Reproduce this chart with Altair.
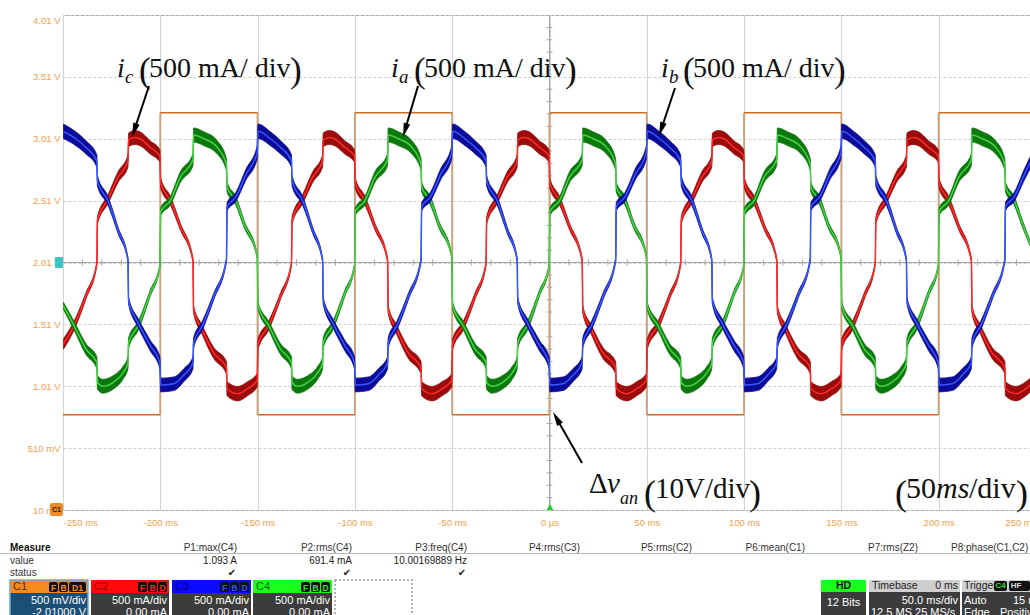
import math
import altair as alt
import pandas as pd

# ------------------------------------------------------------------ data
x_ticks_ms = [-250, -200, -150, -100, -50, 0, 50, 100, 150, 200, 250]
y_ticks_V = [0.01, 0.51, 1.01, 1.51, 2.01, 2.51, 3.01, 3.51, 4.01]

# start of each 100 ms (10 Hz) period visible on screen
period_starts_ms = [-250, -150, -50, 50, 150]

# one period of every phase current: time from period start (ms), current (A)
ic_t = [0.2, 5.7, 11.8, 17.4, 17.7, 23.1, 28.3, 33.4, 33.7, 36.8, 39.6, 44.8, 49.8, 50.2, 55.2, 60.3,
        66.8, 67.1, 71.4, 77.4, 84.0, 84.3, 89.7, 94.8, 99.8]
ic_a = [-0.66, -0.51, -0.27, -0.01, 0.34, 0.51, 0.69, 0.82, 0.99, 1.01, 1.00, 0.93, 0.86, 0.64, 0.50, 0.29,
        0.02, -0.38, -0.54, -0.73, -0.85, -1.02, -1.06, -1.02, -0.95]
ia_t = [0.2, 5.7, 11.8, 17.4, 17.7, 20.5, 25.7, 30.9, 33.4, 33.7, 38.7, 44.8, 49.8, 50.2, 55.2, 60.3,
        66.8, 67.1, 72.4, 79.3, 84.0, 84.3, 88.8, 93.1, 99.8]
ia_a = [-0.35, -0.51, -0.70, -0.81, -0.97, -1.00, -0.97, -0.89, -0.81, -0.65, -0.51, -0.25, -0.03, 0.41, 0.50, 0.69,
        0.83, 1.03, 1.00, 0.93, 0.79, 0.61, 0.50, 0.31, 0.05]
ib_t = [0.2, 6.6, 11.8, 17.4, 17.7, 23.1, 28.3, 33.4, 33.7, 38.7, 44.8, 49.8, 50.2, 56.9, 62.1, 66.8,
        67.1, 71.6, 77.6, 84.0, 84.3, 88.8, 94.0, 99.8]
ib_a = [1.06, 1.00, 0.93, 0.82, 0.66, 0.50, 0.26, 0.02, -0.31, -0.49, -0.67, -0.81, -0.99, -0.98, -0.91, -0.81,
        -0.65, -0.51, -0.27, 0.02, 0.45, 0.53, 0.71, 0.89]

# phase voltage step (V): switching instants and the level held after -250 ms and after each edge
van_edges_ms = [-200, -150, -100, -50, 0, 50, 100, 150, 200]
van_levels_V = [-24.6, 24.2, -24.6, 24.2, -24.6, 24.2, -24.6, 24.2, -24.6, 24.2]

meas_names = ["P1:max(C4)", "P2:rms(C4)", "P3:freq(C4)", "P4:rms(C3)", "P5:rms(C2)",
              "P6:mean(C1)", "P7:rms(Z2)", "P8:phase(C1,C2)"]
meas_values = ["1.093 A", "691.4 mA", "10.00169889 Hz"]

CENTER_V = 2.01        # screen centre (0 A / 0 V)
AMP_TO_SCREEN = 1.0    # 500 mA/div drawn on a 0.5 V/div grid
VOLT_TO_SCREEN = 20.0  # 10 V/div drawn on a 0.5 V/div grid

# ------------------------------------------------------------------ tables
rows = []
for name, ts, amps in [("ic", ic_t, ic_a), ("ia", ia_t, ia_a), ("ib", ib_t, ib_a)]:
    for k, p0 in enumerate(period_starts_ms):
        for j, (t, a) in enumerate(zip(ts, amps)):
            y = CENTER_V + a / AMP_TO_SCREEN
            w = 0.014 + 0.042 * abs(a)
            rows.append(dict(phase=name, t=p0 + t, y=y, lo=y - w, hi=y + w, order=k * 100 + j))
cur = pd.DataFrame(rows)

bounds = [-250] + van_edges_ms + [250]
seg_rows, edge_rows = [], []
for i, lv in enumerate(van_levels_V):
    y = CENTER_V + lv / VOLT_TO_SCREEN
    seg_rows += [dict(seg=i, t=bounds[i], y=y), dict(seg=i, t=bounds[i + 1], y=y)]
for i, e in enumerate(van_edges_ms):
    edge_rows.append(dict(t=e, y=CENTER_V + van_levels_V[i] / VOLT_TO_SCREEN,
                          y2=CENTER_V + van_levels_V[i + 1] / VOLT_TO_SCREEN))
van_seg = pd.DataFrame(seg_rows)
van_edge = pd.DataFrame(edge_rows)

minor_t = pd.DataFrame([dict(t=t, y=CENTER_V - 0.025, y2=CENTER_V + 0.025)
                        for t in range(-240, 250, 10) if t % 50 != 0])
minor_v = pd.DataFrame([dict(t=-1.5, t2=1.5, y=round(0.01 + 0.1 * k, 2))
                        for k in range(1, 40) if k % 5 != 0])

# ------------------------------------------------------------------ scales / axes
SANS = "Liberation Sans"
SERIF = "Liberation Serif"
LABEL_ORANGE = "#f3a04f"
OX, OY = 63, 15

xs = alt.Scale(domain=[-250, 250], range=[0, 973], nice=False, zero=False)
ys = alt.Scale(domain=[0.01, 4.01], nice=False, zero=False)
xaxis = alt.Axis(values=x_ticks_ms, title=None, grid=True, gridColor="#d4d4d4", gridWidth=1,
                 domain=False, ticks=False, labelColor=LABEL_ORANGE, labelFont=SANS, labelFontSize=9.5,
                 labelPadding=7, labelFlush=False,
                 labelExpr="datum.value == 0 ? '0 \u00b5s' : datum.value + ' ms'",
                 labelAlign={"condition": [{"test": "datum.value < -240", "value": "left"},
                                           {"test": "datum.value > 240", "value": "right"}],
                             "value": "center"})
yaxis = alt.Axis(values=y_ticks_V, title=None, grid=True, gridColor="#cfcfcf", gridDash=[3, 2],
                 domain=False, ticks=False, labelColor=LABEL_ORANGE, labelFont=SANS, labelFontSize=9.5,
                 labelPadding=3, labelFlush=False,
                 labelExpr="datum.value >= 1 ? format(datum.value, '.2f') + ' V' : format(datum.value * 1000, '.0f') + ' mV'",
                 labelBaseline={"condition": {"test": "datum.value > 4", "value": "top"}, "value": "middle"})


def X(f):
    return alt.X(f, type="quantitative", scale=xs, axis=xaxis)


def Y(f):
    return alt.Y(f, type="quantitative", scale=ys, axis=yaxis)


ONE = alt.Data(values=[{"k": 1}])


def T(s, x, y, size=10, color="#222", align="left", weight="normal", font=SANS, italic=False,
      baseline="middle"):
    kw = dict(text=s, fontSize=size, color=color, align=align, baseline=baseline, font=font,
              fontWeight=weight)
    if italic:
        kw["fontStyle"] = "italic"
    return alt.Chart(ONE).mark_text(**kw).encode(x=alt.value(x - OX), y=alt.value(y - OY))


def RECT(x1, y1, x2, y2, fill, stroke=None, sw=1, dash=None, radius=0, fill_opacity=1):
    kw = dict(fill=fill, cornerRadius=radius, fillOpacity=fill_opacity)
    if stroke:
        kw.update(stroke=stroke, strokeWidth=sw)
    if dash:
        kw["strokeDash"] = dash
    return alt.Chart(ONE).mark_rect(**kw).encode(
        x=alt.value(x1 - OX), x2=alt.value(x2 - OX), y=alt.value(y1 - OY), y2=alt.value(y2 - OY))


def LINE(x1, y1, x2, y2, color="black", sw=2, dash=None):
    kw = dict(color=color, strokeWidth=sw)
    if dash:
        kw["strokeDash"] = dash
    return alt.Chart(ONE).mark_rule(**kw).encode(
        x=alt.value(x1 - OX), y=alt.value(y1 - OY), x2=alt.value(x2 - OX), y2=alt.value(y2 - OY))


def ARROW(x1, y1, x2, y2):
    dx, dy = x2 - x1, y2 - y1
    L = math.hypot(dx, dy)
    ang = math.degrees(math.atan2(dx, -dy)) % 360
    sx, sy = x2 - dx / L * 10, y2 - dy / L * 10
    head = alt.Chart(ONE).mark_point(shape="M0,0L-0.5,2.1L0.5,2.1Z", size=180, filled=True,
                                     color="black", opacity=1, angle=round(ang, 1)).encode(
        x=alt.value(x2 - OX), y=alt.value(y2 - OY))
    return [LINE(x1, y1, sx, sy, sw=2), head]


# ------------------------------------------------------------------ plot layers
layers = []
layers.append(alt.Chart(alt.Data(values=[{"t": 0, "y": CENTER_V}])).mark_rule(color="#a8a8a8").encode(x=X("t")))
layers.append(alt.Chart(alt.Data(values=[{"t": 0, "y": CENTER_V}])).mark_rule(color="#a8a8a8").encode(y=Y("y")))
layers.append(alt.Chart(minor_t).mark_rule(color="#a8a8a8").encode(x=X("t"), y=Y("y"), y2="y2:Q"))
layers.append(alt.Chart(minor_v).mark_rule(color="#a8a8a8").encode(x=X("t"), x2="t2:Q", y=Y("y")))

layers.append(alt.Chart(van_edge).mark_rule(color="#c9a47f", strokeWidth=2, clip=True).encode(
    x=X("t"), y=Y("y"), y2="y2:Q"))
layers.append(alt.Chart(van_seg).mark_line(color="#cd6a1f", strokeWidth=1.6, clip=True).encode(
    x=X("t"), y=Y("y"), detail="seg:N"))

trace_colors = {"ic": ("#9a0b0b", "#ff2a2a"), "ia": ("#0b780b", "#46d246"), "ib": ("#0b0b98", "#3658ff")}
for ph in ["ic", "ia", "ib"]:
    dark, bright = trace_colors[ph]
    d = cur[cur.phase == ph]
    layers.append(alt.Chart(d).mark_area(fill=dark, stroke=dark, strokeWidth=0.8, interpolate="monotone",
                                         clip=True, fillOpacity=1).encode(
        x=X("t"), y=Y("lo"), y2=alt.Y2("hi")))
    layers.append(alt.Chart(d).mark_line(color=bright, strokeWidth=1.5, interpolate="monotone", clip=True).encode(
        x=X("t"), y=Y("y"), order="order:Q"))

# ------------------------------------------------------------------ annotations
def current_label(xi, sub, xp):
    return [T("i", xi, 77, size=28, font=SERIF, italic=True, baseline="alphabetic", color="#111"),
            T(sub, xi + 8, 83, size=19, font=SERIF, italic=True, baseline="alphabetic", color="#111"),
            T("(", xp, 82, size=35, font=SERIF, baseline="alphabetic", color="#111"),
            T("500 mA/ div", xp + 10, 77, size=28, font=SERIF, baseline="alphabetic", color="#111"),
            T(")", xp + 151, 82, size=35, font=SERIF, baseline="alphabetic", color="#111")]


layers += current_label(117, "c", 139)
layers += current_label(391, "a", 414)
layers += current_label(661, "b", 683)
layers += ARROW(149, 86, 132, 137)
layers += ARROW(418, 86, 403, 137)
layers += ARROW(675, 88, 659, 136)
layers += ARROW(582, 463, 553, 412)

layers += [T("\u0394", 589, 493, size=29, font=SERIF, baseline="alphabetic", color="#111"),
           T("v", 607, 493, size=29, font=SERIF, italic=True, baseline="alphabetic", color="#111"),
           T("an", 620, 504, size=18, font=SERIF, italic=True, baseline="alphabetic", color="#111"),
           T("(", 644, 505, size=36, font=SERIF, baseline="alphabetic", color="#111"),
           T("10V/div", 655, 498, size=29, font=SERIF, baseline="alphabetic", color="#111"),
           T(")", 749, 505, size=36, font=SERIF, baseline="alphabetic", color="#111"),
           T("(", 895, 505, size=36, font=SERIF, baseline="alphabetic", color="#111"),
           T("50", 906, 498, size=30, font=SERIF, baseline="alphabetic", color="#111"),
           T("ms", 936, 498, size=30, font=SERIF, italic=True, baseline="alphabetic", color="#111"),
           T("/div", 969, 498, size=30, font=SERIF, baseline="alphabetic", color="#111"),
           T(")", 1016, 505, size=36, font=SERIF, baseline="alphabetic", color="#111")]

# scope markers
layers += [RECT(50, 503, 63, 516, "#f08a24", radius=2),
           T("C1", 56.5, 509.5, size=7, align="center", color="#222", weight="bold"),
           RECT(55, 257, 63, 268, "#3cc4c4", radius=1),
           alt.Chart(ONE).mark_point(shape="triangle-up", size=45, filled=True, color="#22cc22", opacity=1).encode(
               x=alt.value(550 - OX), y=alt.value(507 - OY))]

# ------------------------------------------------------------------ measurement panel
layers += [T("Measure", 10, 548, size=10, weight="bold", color="#111"),
           LINE(0, 553.5, 1030, 553.5, color="#b8b8b8", sw=1),
           T("value", 10, 561, size=10, color="#333"),
           T("status", 10, 573, size=10, color="#333")]
meas_right = [237, 352, 467, 580, 692, 805, 918]
for name, xr in zip(meas_names[:7], meas_right):
    layers.append(T(name, xr, 548, size=10, align="right", color="#333"))
layers.append(T(meas_names[7], 951, 548, size=10, align="left", color="#333"))
for val, xr in zip(meas_values, meas_right):
    layers.append(T(val, xr, 561, size=10, align="right", color="#222"))
    layers.append(T("\u2714", xr - 5, 573, size=10, align="center", color="#222", font="DejaVu Sans"))

# channel boxes
channels = [("C1", 10, 88, "#f58a1f", "#5b2a00", "#f58a1f", ["F", "B", "D1"], "500 mV/div", "-2.01000 V", "#1b4f75"),
            ("C2", 91, 169, "#ff0a0a", "#9a0000", "#ff2020", ["F", "B", "D"], "500 mA/div", "0.00 mA", "#3c3c3c"),
            ("C3", 172, 251, "#0a0aff", "#00007a", "#3050ff", ["F", "B", "D"], "500 mA/div", "0.00 mA", "#3c3c3c"),
            ("C4", 253, 332, "#1aff1a", "#006000", "#30e030", ["F", "B", "D"], "500 mA/div", "0.00 mA", "#3c3c3c")]
for name, x1, x2, head, txtc, badgec, badges, l1, l2, body in channels:
    layers += [RECT(x1, 580, x2, 593, head), RECT(x1, 593, x2, 620, body),
               T(name, x1 + 3, 587, size=11, color=txtc)]
    bx = x2 - 2
    for b in reversed(badges):
        wdt = 9 if len(b) == 1 else 17
        layers += [RECT(bx - wdt, 582, bx, 592, "#111", radius=2),
                   T(b, bx - wdt / 2, 587.5, size=8.5, align="center", color=badgec, weight="bold")]
        bx -= wdt + 1
    layers += [T(l1, x2 - 2, 601, size=11, align="right", color="white"),
               T(l2, x2 - 2, 613, size=11, align="right", color="white")]
layers.append(RECT(10, 580, 88, 620, "#000000", stroke="#6fa8dc", sw=1.5, fill_opacity=0))
layers.append(RECT(335, 580, 412, 620, "#ffffff", stroke="#9a9a9a", sw=1.5, dash=[2, 2], fill_opacity=0))

# acquisition boxes
layers += [RECT(821, 580, 866, 592, "#1aff1a"), RECT(821, 592, 866, 620, "#3c3c3c"),
           T("HD", 843.5, 586, size=10.5, align="center", weight="bold", color="#111"),
           T("12 Bits", 843.5, 603, size=11, align="center", color="white"),
           RECT(869, 580, 960, 592, "#cfcfcf"), RECT(869, 592, 960, 620, "#3c3c3c"),
           T("Timebase", 872, 586, size=10.5, color="#222"),
           T("0 ms", 958, 586, size=10.5, align="right", color="#222"),
           T("50.0 ms/div", 958, 601, size=11, align="right", color="white"),
           T("12.5 MS   25 MS/s", 871, 613, size=11, color="white"),
           RECT(962, 580, 1030, 592, "#cfcfcf"), RECT(962, 592, 1030, 620, "#3c3c3c"),
           T("Trigger", 964, 586, size=10.5, color="#222"),
           RECT(994, 581, 1007, 591, "#111", radius=2),
           T("C4", 1000.5, 586, size=8, align="center", color="#30e030", weight="bold"),
           RECT(1009, 581, 1030, 591, "#111", radius=2),
           T("HF", 1016, 586, size=8, align="center", color="#dddddd", weight="bold"),
           T("Auto", 964, 601, size=11, color="white"),
           T("15 mV", 1013, 601, size=11, color="white"),
           T("Edge", 964, 613, size=11, color="white"),
           T("Positive", 1000, 613, size=11, color="white")]

chart = alt.layer(*layers).properties(
    width=967, height=495,
    autosize=alt.AutoSizeParams(type="none"),
    padding={"left": 63, "top": 15, "right": 0, "bottom": 105},
    background="white",
).configure_view(stroke="#a6a6a6", strokeWidth=1)

chart.save("out.html", embed_options={"renderer": "svg", "actions": False})
